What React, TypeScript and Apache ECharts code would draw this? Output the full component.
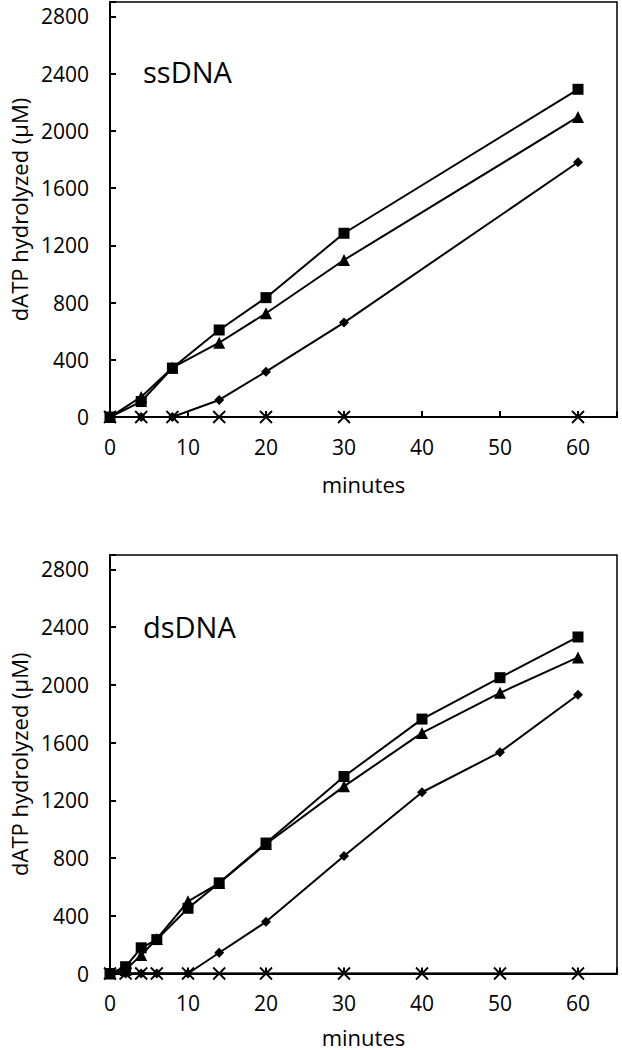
import React, { useEffect, useRef } from "react";
import * as echarts from "echarts";

const ssTimes = [0, 4, 8, 14, 20, 30, 60];
const ssSquare = [0, 108, 342, 608, 834, 1284, 2290];
const ssTriangle = [0, 140, 345, 519, 725, 1097, 2097];
const ssDiamond = [0, 0, 0, 119, 317, 660, 1780];
const ssCross = [0, 0, 0, 0, 0, 0, 0];

const dsTimes = [0, 2, 4, 6, 10, 14, 20, 30, 40, 50, 60];
const dsSquare = [0, 47, 178, 235, 452, 628, 904, 1365, 1763, 2050, 2332];
const dsTriangle = [0, 25, 128, 239, 500, 627, 897, 1297, 1667, 1945, 2190];
const dsDiamond = [0, 0, 0, 0, 0, 144, 358, 814, 1256, 1534, 1932];
const dsCross = [0, 0, 0, 0, 0, 0, 0, 0, 0, 0, 0];

const panelTitles = ["ssDNA", "dsDNA"];
const yName = "dATP hydrolyzed (\u03bcM)";
const xName = "minutes";

const FONT = "Open Sans";
const CROSS = "path://M0,0L10,10M10,0L0,10";

function pairs(xs: number[], ys: number[]) {
  return xs.map((x, i) => [x, ys[i]]);
}

export default function App() {
  const ref = useRef<HTMLDivElement>(null);
  useEffect(() => {
    if (!ref.current) return;
    const chart = echarts.init(ref.current, undefined, { renderer: "svg" });
    const grids = [
      { left: 102, right: 5, top: 2, height: 415 },
      { left: 102, right: 5, top: 555, height: 418.5 },
    ];
    const nameGaps = [56, 52];
    const xAxis = grids.map((_, i) => ({
      type: "value",
      gridIndex: i,
      min: 0,
      max: 65,
      interval: 10,
      name: xName,
      nameLocation: "middle",
      nameGap: nameGaps[i],
      nameTextStyle: { fontFamily: FONT, fontSize: 22, color: "#000" },
      axisLine: { show: true, onZero: false, lineStyle: { color: "#000", width: 2 } },
      axisTick: { show: true, inside: true, length: 6, lineStyle: { color: "#000", width: 2 } },
      axisLabel: {
        margin: 19,
        fontFamily: FONT,
        fontSize: 21,
        color: "#000",
        formatter: (v: number) => (v % 10 === 0 ? String(v) : ""),
      },
      splitLine: { show: false },
    }));
    const yAxis = grids.map((_, i) => ({
      type: "value",
      gridIndex: i,
      min: 0,
      max: 2900,
      interval: 400,
      name: yName,
      nameLocation: "middle",
      nameGap: 80,
      nameTextStyle: { fontFamily: FONT, fontSize: 22, color: "#000" },
      axisLine: { show: true, onZero: false, lineStyle: { color: "#000", width: 2 } },
      axisTick: { show: true, inside: true, length: 6, lineStyle: { color: "#000", width: 2 } },
      axisLabel: {
        margin: 21,
        fontFamily: FONT,
        fontSize: 21,
        color: "#000",
        formatter: (v: number) => (v % 400 === 0 ? String(v) : ""),
      },
      splitLine: { show: false },
    }));
    const mk = (idx: number, data: number[][], symbol: string, size: number, isCross = false) => ({
      type: "line",
      xAxisIndex: idx,
      yAxisIndex: idx,
      data,
      symbol,
      symbolSize: size,
      showSymbol: true,
      lineStyle: { color: "#000", width: 2 },
      itemStyle: isCross
        ? { color: "rgba(0,0,0,0)", borderColor: "#000", borderWidth: 1.8 }
        : { color: "#000", borderColor: "#000", borderWidth: 0 },
      z: 3,
    });
    const series = [
      mk(0, pairs(ssTimes, ssCross), CROSS, 12, true),
      mk(0, pairs(ssTimes, ssDiamond), "diamond", 10),
      mk(0, pairs(ssTimes, ssTriangle), "triangle", 12),
      mk(0, pairs(ssTimes, ssSquare), "rect", 11),
      mk(1, pairs(dsTimes, dsCross), CROSS, 12, true),
      mk(1, pairs(dsTimes, dsDiamond), "diamond", 10),
      mk(1, pairs(dsTimes, dsTriangle), "triangle", 12),
      mk(1, pairs(dsTimes, dsSquare), "rect", 11),
    ];
    chart.setOption({
      animation: false,
      backgroundColor: "#fff",
      grid: grids.map((g) => ({ ...g, show: true, borderColor: "#000", borderWidth: 1.5, backgroundColor: "transparent" })),
      xAxis,
      yAxis,
      series,
      graphic: [
        {
          type: "text",
          x: 143,
          y: 71,
          style: { text: panelTitles[0], font: `29px "${FONT}"`, fill: "#000", verticalAlign: "middle" },
        },
        {
          type: "text",
          x: 143,
          y: 626,
          style: { text: panelTitles[1], font: `29px "${FONT}"`, fill: "#000", verticalAlign: "middle" },
        },
      ],
    });
    return () => chart.dispose();
  }, []);
  return (
    <div
      ref={ref}
      style={{ position: "fixed", left: 0, top: 0, width: 622, height: 1050, background: "#fff" }}
    />
  );
}
